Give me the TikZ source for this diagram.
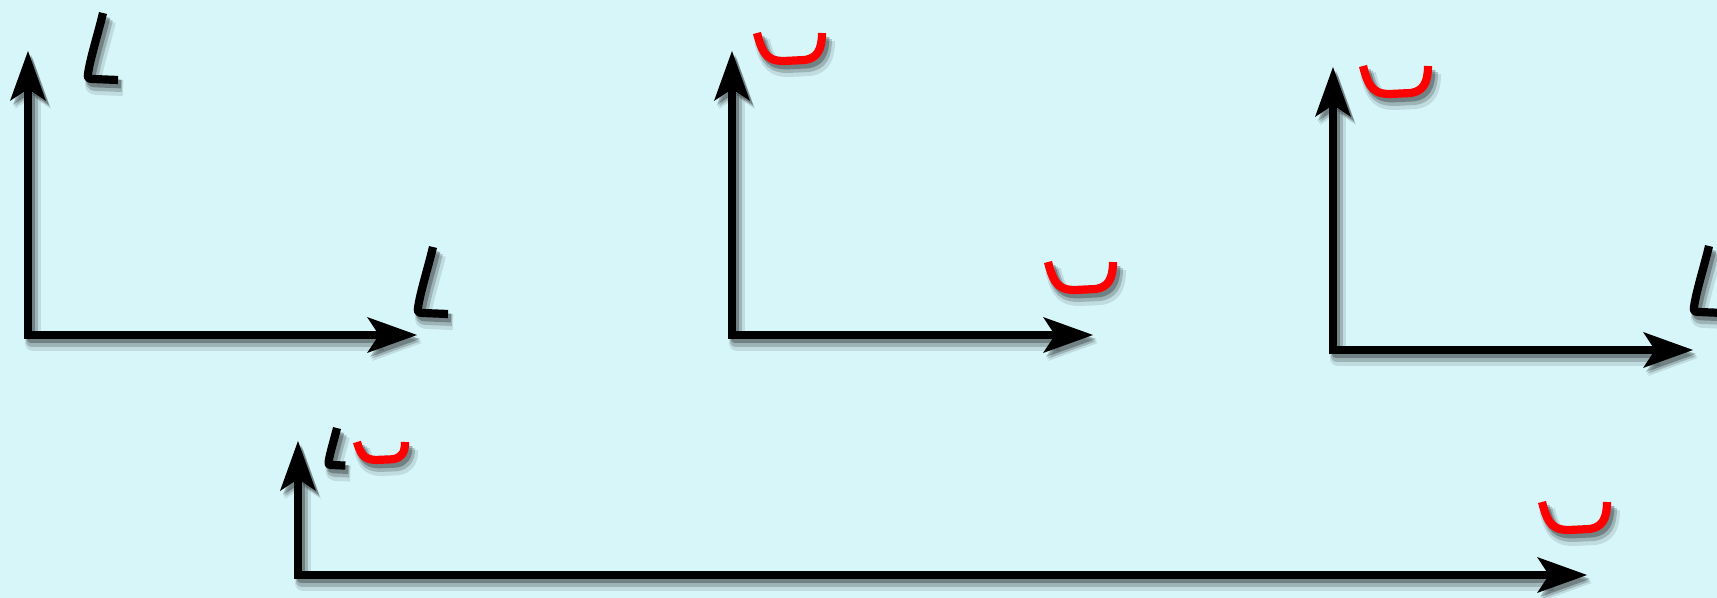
\documentclass[tikz,border=0pt]{standalone}
\usetikzlibrary{arrows.meta}
\definecolor{bg}{RGB}{214,246,250}
\definecolor{redmark}{RGB}{255,0,0}
\begin{document}
\begin{tikzpicture}[x=0.5pt,y=-0.5pt,
  line join=round,
  shd/.style={
    preaction={draw=black,opacity=0.10,line width=8pt,transform canvas={shift={(5,8)}}},
    preaction={draw=black,opacity=0.18,line width=6pt,transform canvas={shift={(4,6)}}},
    preaction={draw=black,opacity=0.28,line width=4.4pt,transform canvas={shift={(3,4)}}}},
  tipa/.tip={Stealth[length=25pt,width=18pt,inset=6pt,line width=0pt]},
  axis/.style={shd,draw=black,line width=4.1pt,line join=miter,tipa-tipa},
  blkmark/.style={shd,draw=black,line width=4.1pt},
  redm/.style={shd,draw=redmark,line width=4.1pt},
  Lpic/.pic={\draw[blkmark] (16,-66) .. controls (11,-45) and (3,-20) .. (1,-5) .. controls (0,-1) and (2,0) .. (6,0) -- (31,1);},
  Upic/.pic={\draw[redm] (0,0) .. controls (2,8) and (4,14) .. (7,19) .. controls (11,25) and (16,28) .. (27,28) -- (48,27) .. controls (60,25) and (65,17) .. (65,0);}
]
\useasboundingbox (0,0) rectangle (1717,598);
\fill[bg] (0,0) rectangle (1717,598);

% panel 1
\coordinate (p1t) at (28,51);
\coordinate (p1c) at (28,335);
\coordinate (p1r) at (417,335);
\draw[axis] (p1t) -- (p1c) -- (p1r);
\pic at (87,79) {Lpic};
\pic at (417,313) {Lpic};

% panel 2
\coordinate (p2t) at (732,51);
\coordinate (p2c) at (732,335);
\coordinate (p2r) at (1093,335);
\draw[axis] (p2t) -- (p2c) -- (p2r);
\pic at (757,33) {Upic};
\pic at (1048,262) {Upic};

% panel 3
\coordinate (p3t) at (1333,67);
\coordinate (p3c) at (1333,350);
\coordinate (p3r) at (1693,350);
\draw[axis] (p3t) -- (p3c) -- (p3r);
\pic at (1363,66) {Upic};
\pic at (1693,312) {Lpic};

% panel 4
\coordinate (p4t) at (298,441);
\coordinate (p4c) at (298,575);
\coordinate (p4r) at (1587,575);
\draw[axis] (p4t) -- (p4c) -- (p4r);
\pic[scale=0.56] at (328,465) {Lpic};
\pic[xscale=0.74,yscale=0.64] at (357,442) {Upic};
\pic at (1542,502) {Upic};
\end{tikzpicture}
\end{document}
